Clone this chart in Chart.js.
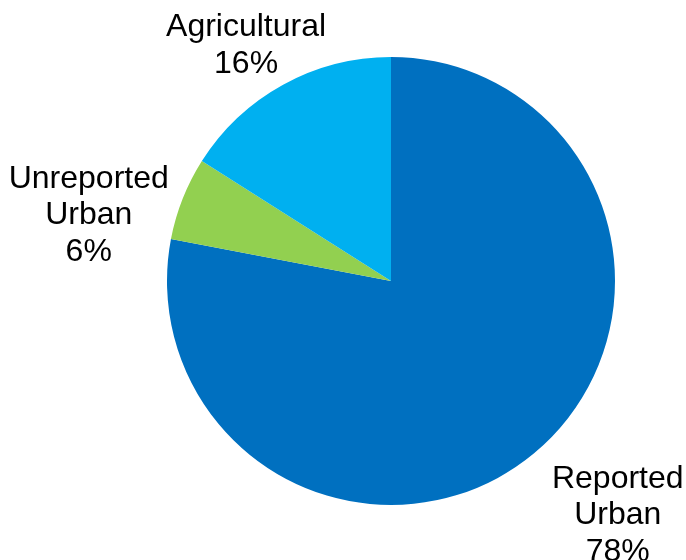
<!DOCTYPE html>
<html>
<head>
<meta charset="utf-8">
<script src="https://cdn.jsdelivr.net/npm/chart.js@4/dist/chart.umd.min.js"></script>
<style>
  html, body { margin: 0; padding: 0; background: #ffffff; }
  #wrap { width: 686px; height: 560px; }
</style>
</head>
<body>
<div id="wrap"><canvas id="pie" width="686" height="560"></canvas></div>
<script>
// Share of water use by sector
const categories = ['Reported Urban', 'Unreported Urban', 'Agricultural'];
const shares = [78, 6, 16];
const percentLabels = ['78%', '6%', '16%'];
const sliceColors = ['#0070C0', '#92D050', '#00B0F0'];

// Label placement relative to the outer edge of each slice at its mid angle
const labelNudge = [
  { dx: 84, dy: 62 },
  { dx: -94, dy: 17 },
  { dx: -37, dy: -39 }
];

const outsideLabels = {
  id: 'outsideLabels',
  afterDatasetsDraw(chart) {
    const ctx = chart.ctx;
    const meta = chart.getDatasetMeta(0);
    ctx.save();
    ctx.font = '32px "Liberation Sans", Arial, sans-serif';
    ctx.fillStyle = '#000000';
    ctx.textAlign = 'center';
    ctx.textBaseline = 'middle';
    const lineH = 36.5;
    meta.data.forEach((arc, i) => {
      const mid = (arc.startAngle + arc.endAngle) / 2;
      const px = arc.x + Math.cos(mid) * arc.outerRadius;
      const py = arc.y + Math.sin(mid) * arc.outerRadius;
      const cx = px + labelNudge[i].dx;
      const cy = py + labelNudge[i].dy;
      const lines = categories[i].split(' ').concat([percentLabels[i]]);
      const top = cy - (lines.length - 1) * lineH / 2;
      lines.forEach((t, k) => ctx.fillText(t, cx, top + k * lineH));
    });
    ctx.restore();
  }
};

new Chart(document.getElementById('pie'), {
  type: 'pie',
  data: {
    labels: categories,
    datasets: [{
      data: shares,
      backgroundColor: sliceColors,
      borderWidth: 0
    }]
  },
  options: {
    responsive: false,
    animation: false,
    layout: { padding: { left: 167, right: 71, top: 57, bottom: 55 } },
    plugins: {
      legend: { display: false },
      tooltip: { enabled: false }
    }
  },
  plugins: [outsideLabels]
});
</script>
</body>
</html>
